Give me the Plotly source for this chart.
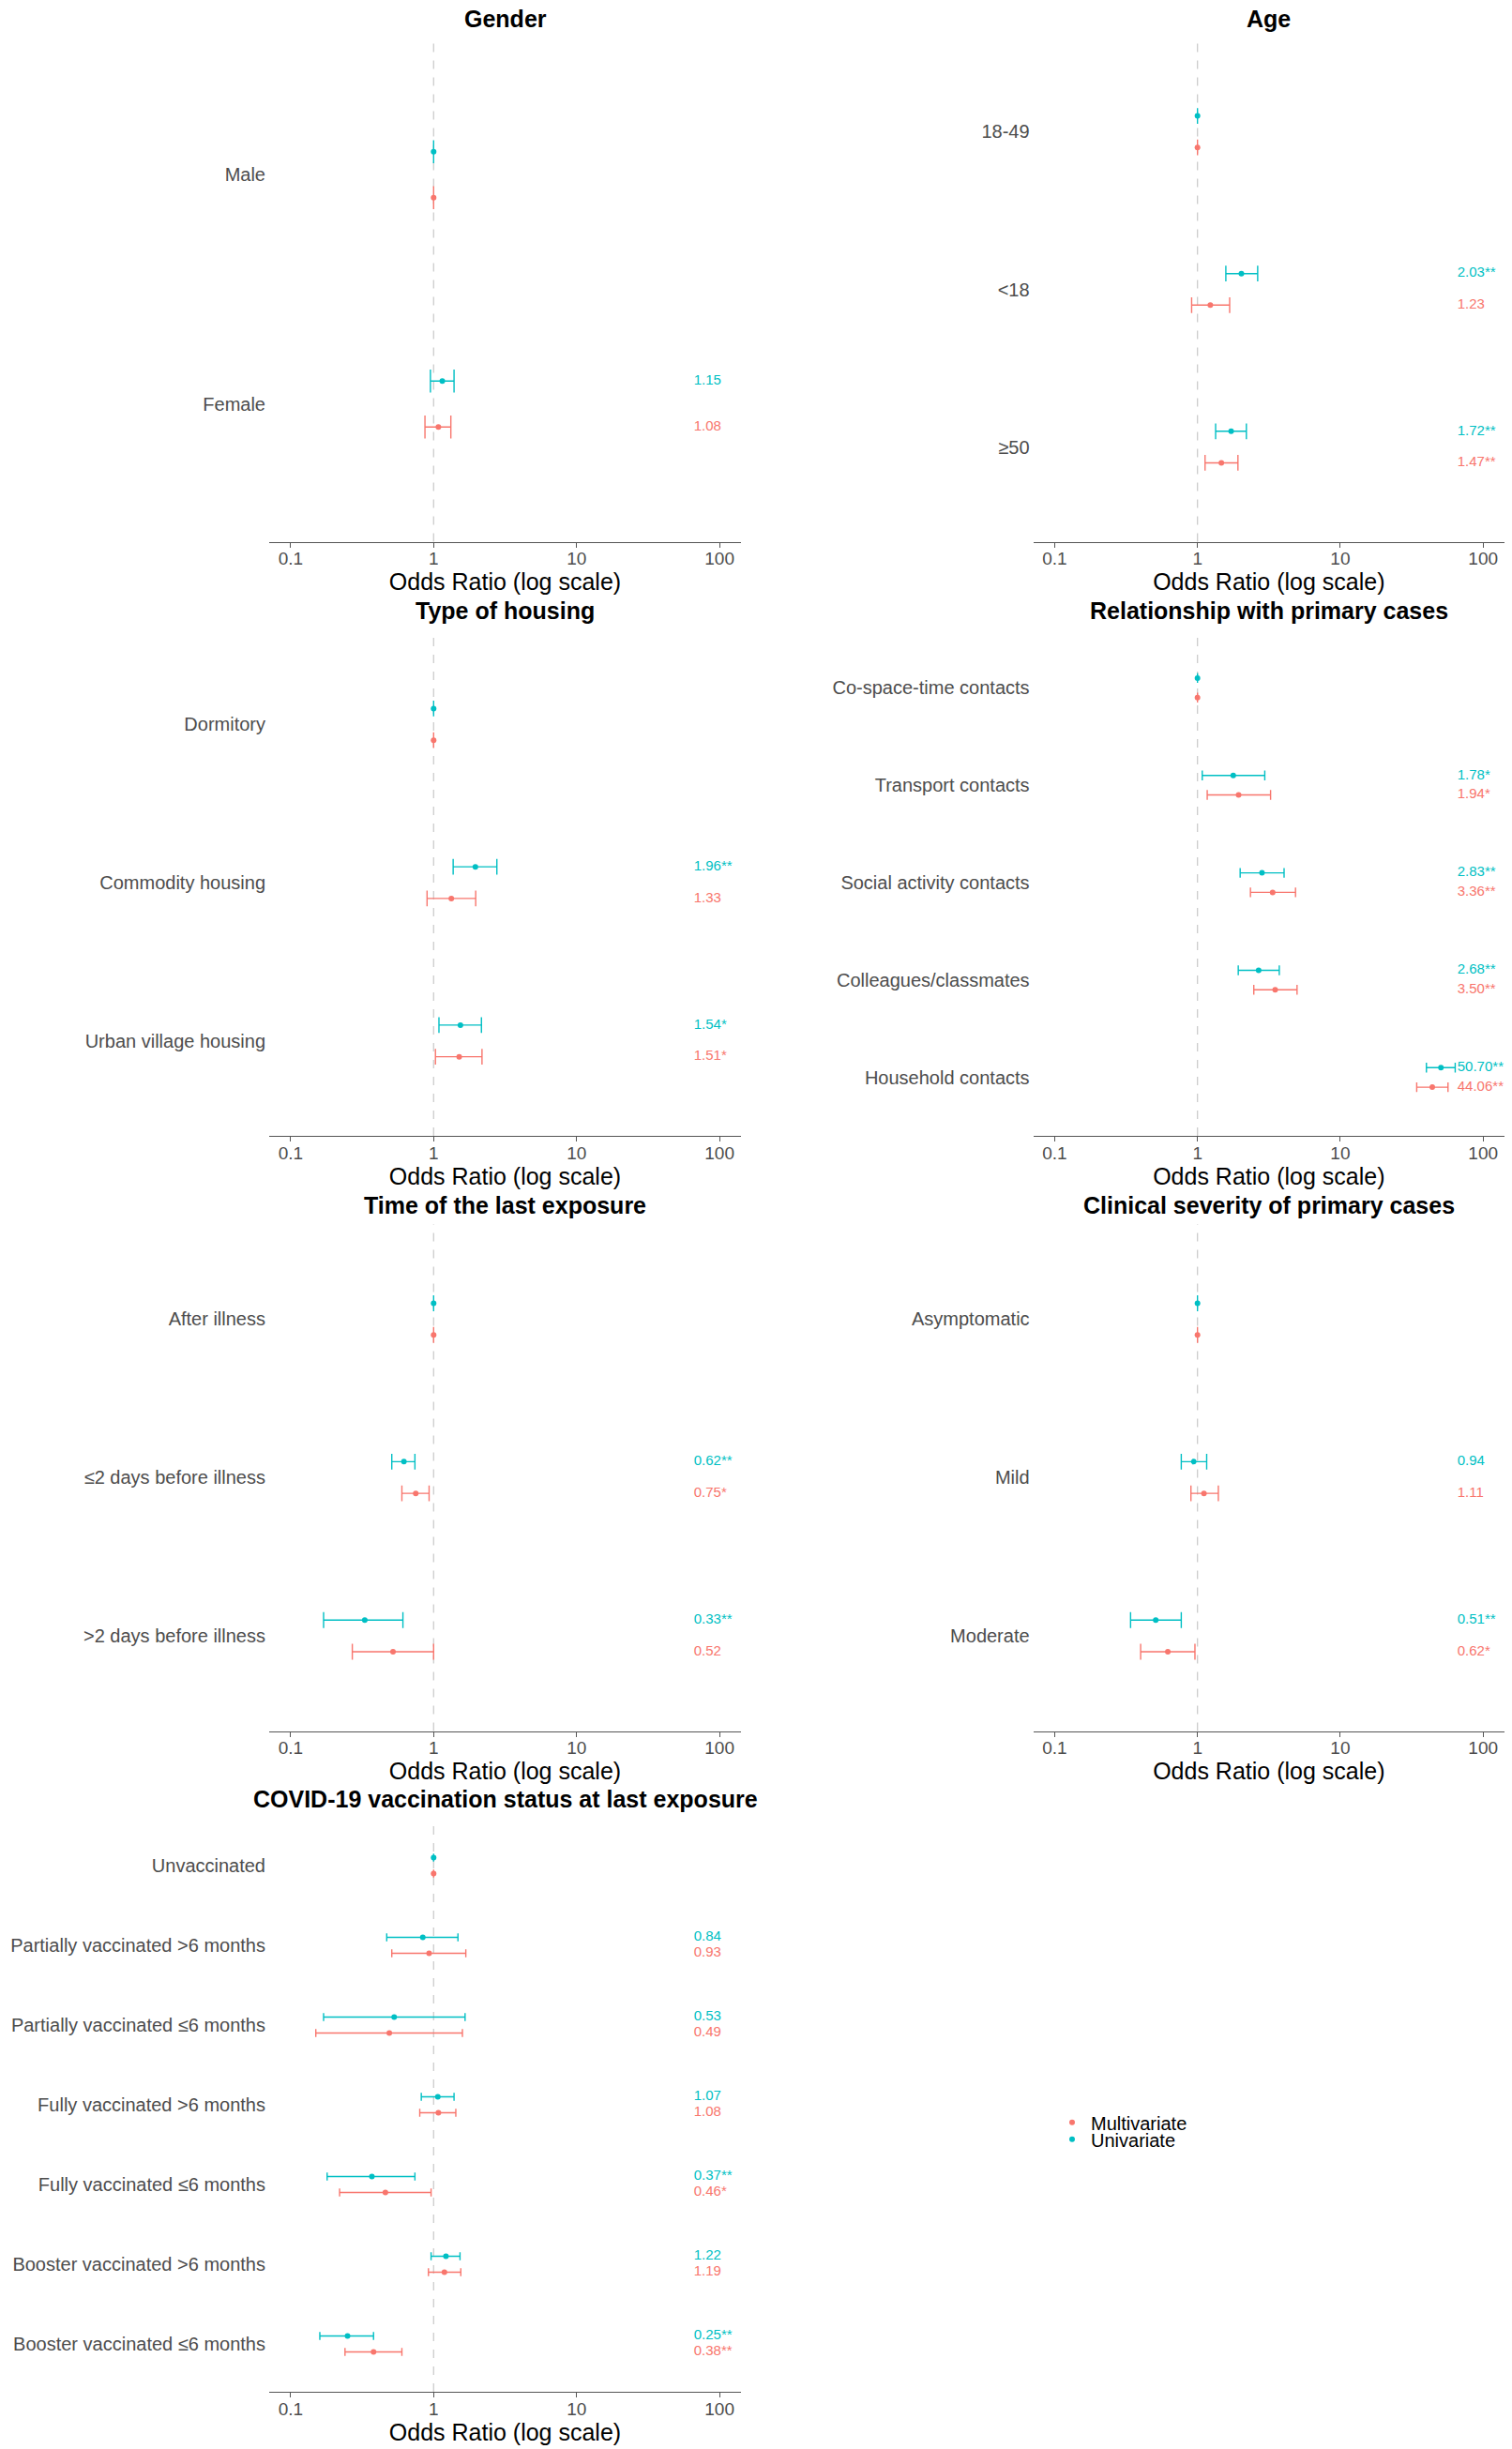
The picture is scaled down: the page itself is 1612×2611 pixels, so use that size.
import plotly.graph_objects as go

# ---------------- data ----------------
gender_cats = ["Male", "Female"]
gender_uni_or = [1.00, 1.15]
gender_uni_lo = [1.00, 0.95]
gender_uni_hi = [1.00, 1.39]
gender_uni_sig = [None, ""]
gender_multi_or = [1.00, 1.08]
gender_multi_lo = [1.00, 0.87]
gender_multi_hi = [1.00, 1.32]
gender_multi_sig = [None, ""]

age_cats = ["18-49", "<18", "≥50"]
age_uni_or = [1.00, 2.03, 1.72]
age_uni_lo = [1.00, 1.58, 1.34]
age_uni_hi = [1.00, 2.64, 2.20]
age_uni_sig = [None, "**", "**"]
age_multi_or = [1.00, 1.23, 1.47]
age_multi_lo = [1.00, 0.91, 1.13]
age_multi_hi = [1.00, 1.68, 1.92]
age_multi_sig = [None, "", "**"]

housing_cats = ["Dormitory", "Commodity housing", "Urban village housing"]
housing_uni_or = [1.00, 1.96, 1.54]
housing_uni_lo = [1.00, 1.37, 1.09]
housing_uni_hi = [1.00, 2.77, 2.16]
housing_uni_sig = [None, "**", "*"]
housing_multi_or = [1.00, 1.33, 1.51]
housing_multi_lo = [1.00, 0.90, 1.03]
housing_multi_hi = [1.00, 1.97, 2.18]
housing_multi_sig = [None, "", "*"]

rel_cats = ["Co-space-time contacts", "Transport contacts", "Social activity contacts",
            "Colleagues/classmates", "Household contacts"]
rel_uni_or = [1.00, 1.78, 2.83, 2.68, 50.70]
rel_uni_lo = [1.00, 1.08, 1.99, 1.93, 40.1]
rel_uni_hi = [1.00, 2.96, 4.04, 3.74, 63.8]
rel_uni_sig = [None, "*", "**", "**", "**"]
rel_multi_or = [1.00, 1.94, 3.36, 3.50, 44.06]
rel_multi_lo = [1.00, 1.17, 2.35, 2.48, 34.3]
rel_multi_hi = [1.00, 3.25, 4.86, 4.98, 56.8]
rel_multi_sig = [None, "*", "**", "**", "**"]

time_cats = ["After illness", "≤2 days before illness", ">2 days before illness"]
time_uni_or = [1.00, 0.62, 0.33]
time_uni_lo = [1.00, 0.51, 0.17]
time_uni_hi = [1.00, 0.74, 0.61]
time_uni_sig = [None, "**", "**"]
time_multi_or = [1.00, 0.75, 0.52]
time_multi_lo = [1.00, 0.60, 0.27]
time_multi_hi = [1.00, 0.93, 1.00]
time_multi_sig = [None, "*", ""]

sev_cats = ["Asymptomatic", "Mild", "Moderate"]
sev_uni_or = [1.00, 0.94, 0.51]
sev_uni_lo = [1.00, 0.77, 0.34]
sev_uni_hi = [1.00, 1.16, 0.77]
sev_uni_sig = [None, "", "**"]
sev_multi_or = [1.00, 1.11, 0.62]
sev_multi_lo = [1.00, 0.90, 0.40]
sev_multi_hi = [1.00, 1.40, 0.96]
sev_multi_sig = [None, "", "*"]

vac_cats = ["Unvaccinated", "Partially vaccinated >6 months", "Partially vaccinated ≤6 months",
            "Fully vaccinated >6 months", "Fully vaccinated ≤6 months",
            "Booster vaccinated >6 months", "Booster vaccinated ≤6 months"]
vac_uni_or = [1.00, 0.84, 0.53, 1.07, 0.37, 1.22, 0.25]
vac_uni_lo = [1.00, 0.47, 0.17, 0.82, 0.18, 0.96, 0.16]
vac_uni_hi = [1.00, 1.48, 1.66, 1.39, 0.74, 1.53, 0.38]
vac_uni_sig = [None, "", "", "", "**", "", "**"]
vac_multi_or = [1.00, 0.93, 0.49, 1.08, 0.46, 1.19, 0.38]
vac_multi_lo = [1.00, 0.51, 0.15, 0.80, 0.22, 0.92, 0.24]
vac_multi_hi = [1.00, 1.68, 1.59, 1.43, 0.96, 1.55, 0.60]
vac_multi_sig = [None, "", "", "", "*", "", "**"]

x_tick_vals = [0.1, 1, 10, 100]
x_tick_text = ["0.1", "1", "10", "100"]
REF_OR = 1
LABEL_X = 10 ** 1.82
x_title = "Odds Ratio (log scale)"

# ---------------- styling / layout ----------------
FONT = "Liberation Sans, Arial, sans-serif"
UNI_COLOR = "#00BFC4"
MULTI_COLOR = "#F8766D"
W, H = 1612, 2611
DODGE = 0.1

col_px = [(287.0, 790.0), (1101.6, 1604.0)]
row_px = [(39.5, 577.5), (671.0, 1211.0), (1305.0, 1845.5), (1938.0, 2550.0)]

panels = [
    ("Gender", gender_cats, (gender_uni_or, gender_uni_lo, gender_uni_hi, gender_uni_sig),
     (gender_multi_or, gender_multi_lo, gender_multi_hi, gender_multi_sig), 0, 0),
    ("Age", age_cats, (age_uni_or, age_uni_lo, age_uni_hi, age_uni_sig),
     (age_multi_or, age_multi_lo, age_multi_hi, age_multi_sig), 1, 0),
    ("Type of housing", housing_cats, (housing_uni_or, housing_uni_lo, housing_uni_hi, housing_uni_sig),
     (housing_multi_or, housing_multi_lo, housing_multi_hi, housing_multi_sig), 0, 1),
    ("Relationship with primary cases", rel_cats, (rel_uni_or, rel_uni_lo, rel_uni_hi, rel_uni_sig),
     (rel_multi_or, rel_multi_lo, rel_multi_hi, rel_multi_sig), 1, 1),
    ("Time of the last exposure", time_cats, (time_uni_or, time_uni_lo, time_uni_hi, time_uni_sig),
     (time_multi_or, time_multi_lo, time_multi_hi, time_multi_sig), 0, 2),
    ("Clinical severity of primary cases", sev_cats, (sev_uni_or, sev_uni_lo, sev_uni_hi, sev_uni_sig),
     (sev_multi_or, sev_multi_lo, sev_multi_hi, sev_multi_sig), 1, 2),
    ("COVID-19 vaccination status at last exposure", vac_cats,
     (vac_uni_or, vac_uni_lo, vac_uni_hi, vac_uni_sig),
     (vac_multi_or, vac_multi_lo, vac_multi_hi, vac_multi_sig), 0, 3),
]


def make_label(o, s):
    return "" if s is None else f"{o:.2f}{s}"


fig = go.Figure()
layout = dict(
    width=W, height=H, autosize=False,
    margin=dict(l=0, r=0, t=0, b=0),
    paper_bgcolor="white", plot_bgcolor="white",
    font=dict(family=FONT, color="#000000"),
    showlegend=True,
    shapes=[], annotations=[],
)

for i, (title, cats, uni, multi, col, row) in enumerate(panels, start=1):
    sfx = "" if i == 1 else str(i)
    xa, ya = "x" + sfx, "y" + sfx
    n = len(cats)
    x0, x1 = col_px[col]
    y0, y1 = row_px[row]
    spacing_px = (y1 - y0) / (n - 1 + 1.2)
    cap = 0.05 * spacing_px

    idx = list(range(n))
    series = [
        ("Univariate", uni, [k - DODGE for k in idx], UNI_COLOR, "legend2"),
        ("Multivariate", multi, [k + DODGE for k in idx], MULTI_COLOR, "legend"),
    ]
    for name, (o, lo, hi, sig), ys, color, leg in series:
        fig.add_trace(go.Scatter(
            x=o, y=ys, mode="markers", name=name,
            marker=dict(color=color, size=6),
            error_x=dict(type="data", symmetric=False,
                         array=[h - v for h, v in zip(hi, o)],
                         arrayminus=[v - l for v, l in zip(o, lo)],
                         color=color, thickness=1.4, width=cap),
            xaxis=xa, yaxis=ya, showlegend=(i == 1), legend=leg,
            hoverinfo="skip",
        ))
        fig.add_trace(go.Scatter(
            x=[LABEL_X] * n, y=ys, mode="text",
            text=[make_label(v, s) for v, s in zip(o, sig)],
            textposition="middle right",
            textfont=dict(family=FONT, size=15, color=color),
            xaxis=xa, yaxis=ya, showlegend=False, hoverinfo="skip",
        ))

    layout["xaxis" + sfx] = dict(
        domain=[x0 / W, x1 / W], anchor=ya, type="log",
        range=[-1.15, 2.15], tickmode="array", tickvals=x_tick_vals, ticktext=x_tick_text,
        showline=True, linecolor="#555555", linewidth=1.3,
        ticks="outside", ticklen=5, tickcolor="#555555", tickwidth=1.3,
        tickfont=dict(family=FONT, size=19, color="#4D4D4D"),
        ticklabelstandoff=-4,
        showgrid=False, zeroline=False, automargin=False, fixedrange=True,
        title=dict(text=x_title, font=dict(family=FONT, size=25, color="#000000"), standoff=0),
    )
    layout["yaxis" + sfx] = dict(
        domain=[1 - y1 / H, 1 - y0 / H], anchor=xa,
        range=[n - 1 + 0.6, -0.6], tickmode="array", tickvals=idx, ticktext=cats,
        tickfont=dict(family=FONT, size=20, color="#4D4D4D"),
        showline=False, ticks="", showgrid=False, zeroline=False,
        automargin=False, fixedrange=True, ticklabelstandoff=3,
    )
    layout["shapes"].append(dict(
        type="line", xref=xa, yref=ya + " domain", x0=REF_OR, x1=REF_OR, y0=0, y1=1,
        line=dict(color="#CCCCCC", width=1.3, dash="dash"), layer="below",
    ))
    layout["annotations"].append(dict(
        text=title, xref=xa + " domain", yref=ya + " domain", x=0.5, y=1,
        xanchor="center", yanchor="middle", yshift=20, showarrow=False,
        font=dict(family=FONT, size=25, color="#000000", weight="bold"),
    ))

legend_common = dict(
    xanchor="left", yanchor="middle", x=1123 / W,
    font=dict(family=FONT, size=20, color="#000000"),
    bgcolor="rgba(0,0,0,0)", borderwidth=0, itemwidth=30,
)
layout["legend"] = dict(legend_common, y=1 - 2262.7 / H)
layout["legend2"] = dict(legend_common, y=1 - 2280.7 / H)

fig.update_layout(**layout)
fig.write_html("out.html", config={"displayModeBar": False},
               post_script="document.body.style.margin='0';")
